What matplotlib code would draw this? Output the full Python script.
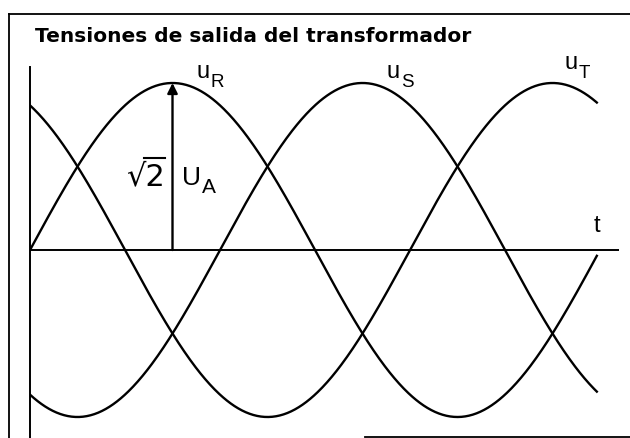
import numpy as np
import matplotlib
matplotlib.use("Agg")
import matplotlib.pyplot as plt

# ---- data ----
title = "Tensiones de salida del transformador"
phase_names = ["R", "S", "T"]
phase_shift_deg = [0, 120, 240]
amplitude = 1.0          # sqrt(2) * U_A, normalised
t_end_deg = 358
t_deg = np.linspace(0, t_end_deg, 600)

W, H = 630, 438
fig = plt.figure(figsize=(W / 100, H / 100), dpi=100)


def px(x, y):
    return x / W, 1 - y / H


# pixel geometry of the drawing area
x0_px, x360_px, xright_px = 30, 600, 619
y0_px, amp_px = 250, 167
ytop_px, ybot_px = 67, 438

xmax = 360 * (xright_px - x0_px) / (x360_px - x0_px)
ytop = (y0_px - ytop_px) / amp_px
ybot = -(ybot_px - y0_px) / amp_px

ax = fig.add_axes([x0_px / W, (H - ybot_px) / H, (xright_px - x0_px) / W,
                   (ybot_px - ytop_px) / H])
ax.set_xlim(0, xmax)
ax.set_ylim(ybot, ytop)
for s in ["top", "right", "bottom"]:
    ax.spines[s].set_visible(False)
ax.spines["left"].set_linewidth(1.4)
ax.set_xticks([])
ax.set_yticks([])
ax.patch.set_alpha(0)
ax.axhline(0, color="black", lw=1.4)

for name, ph in zip(phase_names, phase_shift_deg):
    y = amplitude * np.sin(np.radians(t_deg - ph))
    ax.plot(t_deg, y, color="black", lw=1.7)

# phase labels: (u left x, u baseline y, sub left x, sub baseline y) in px
lab_px = {"R": (197, 78, 210, 87), "S": (387, 78, 401, 87),
          "T": (565, 69, 579, 78)}
for name in phase_names:
    ux, uy, sx, sy = lab_px[name]
    fig.text(*px(ux, uy), "u", fontsize=17, family="Liberation Sans",
             ha="left", va="baseline")
    fig.text(*px(sx, sy), name, fontsize=13.5, family="Liberation Sans",
             ha="left", va="baseline")

# amplitude arrow
ax.annotate("", xy=(90, amplitude), xytext=(90, 0),
            arrowprops=dict(arrowstyle="-|>", color="black", lw=1.7,
                            mutation_scale=15, shrinkA=0, shrinkB=0))
# sqrt(2): radical sign + digit as one text, plus vinculum
fig.text(*px(126, 185), "\u221a2", fontsize=22, family="DejaVu Sans",
         ha="left", va="baseline")
fig.add_artist(plt.Line2D([144 / W, 165 / W], [1 - 158 / H, 1 - 158 / H],
                          transform=fig.transFigure, color="black", lw=1.5))
fig.text(*px(182, 185), "U", fontsize=19, family="Liberation Sans",
         ha="left", va="baseline")
fig.text(*px(202, 193), "A", fontsize=15, family="Liberation Sans",
         ha="left", va="baseline")
fig.text(*px(597, 232), "t", fontsize=17, family="Liberation Sans",
         ha="center", va="baseline")

# outer frame and title
fig.add_artist(plt.Line2D([9 / W, 1.0], [1 - 14 / H, 1 - 14 / H],
                          transform=fig.transFigure, color="black", lw=1.3))
fig.add_artist(plt.Line2D([9 / W, 9 / W], [0, 1 - 14 / H],
                          transform=fig.transFigure, color="black", lw=1.3))
fig.add_artist(plt.Line2D([365 / W, 1.0], [1 / H, 1 / H],
                          transform=fig.transFigure, color="black", lw=1.3))
fig.text(*px(35, 42), title, fontsize=14.5, fontweight="bold",
         family="DejaVu Sans", ha="left", va="baseline")

fig.savefig("out.png", dpi=100, facecolor="white")
